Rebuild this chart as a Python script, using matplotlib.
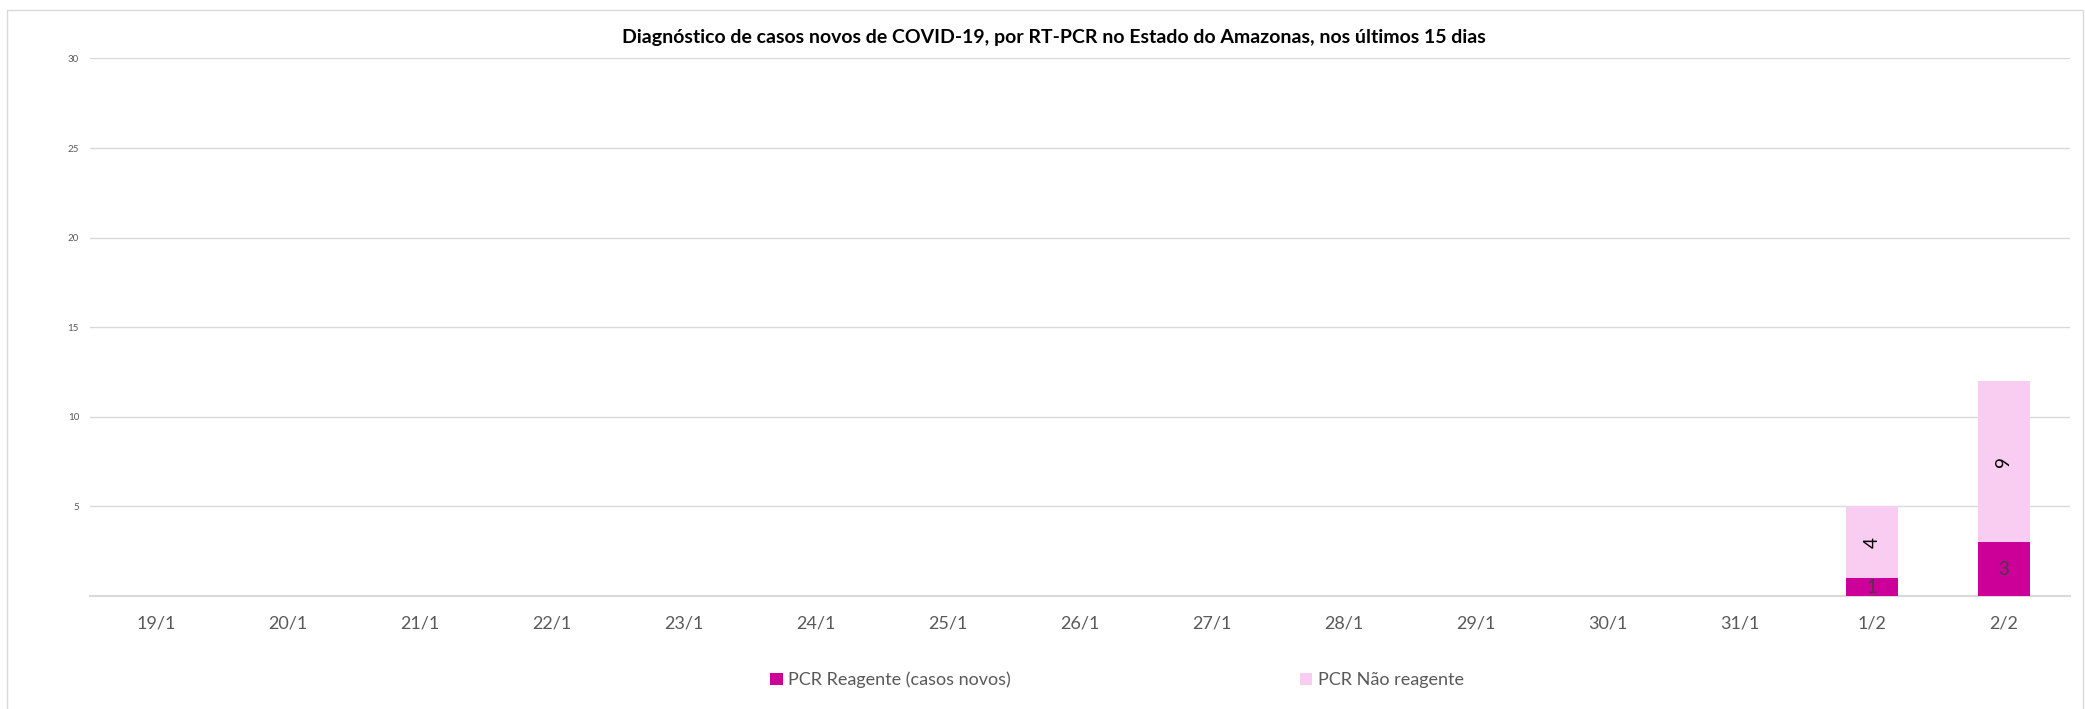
import matplotlib.pyplot as plt
import numpy as np
from matplotlib.patches import Rectangle

plt.rcParams['font.family'] = ['Lato', 'DejaVu Sans']

# data
dias = ['19/1', '20/1', '21/1', '22/1', '23/1', '24/1', '25/1', '26/1',
        '27/1', '28/1', '29/1', '30/1', '31/1', '1/2', '2/2']
reagente = [0, 0, 0, 0, 0, 0, 0, 0, 0, 0, 0, 0, 0, 1, 3]
nao_reagente = [0, 0, 0, 0, 0, 0, 0, 0, 0, 0, 0, 0, 0, 4, 9]
y_ticks = [5, 10, 15, 20, 25, 30]

cor_reag = '#CC0099'
cor_nao = '#F9CCF2'
cinza = '#595959'

fig = plt.figure(figsize=(20.85, 7.09), dpi=100)
ax = fig.add_axes([0.0432, 0.1594, 0.9496, 0.7581])

# chart border
fig.patches.append(Rectangle((7 / 2085, -0.05), (2083 - 7) / 2085, 1 - 10 / 709 + 0.05,
                             transform=fig.transFigure, fill=False,
                             edgecolor='#D9D9D9', linewidth=1))

x = np.arange(len(dias))
b1 = ax.bar(x, reagente, width=0.4, color=cor_reag, label='PCR Reagente (casos novos)', zorder=3)
b2 = ax.bar(x, nao_reagente, width=0.4, bottom=reagente, color=cor_nao,
            label='PCR Não reagente', zorder=3)

# data labels
for i in range(len(dias)):
    if reagente[i]:
        ax.text(x[i], reagente[i] / 2, str(reagente[i]), ha='center', va='center',
                fontsize=13.5, color='#404040', zorder=4)
    if nao_reagente[i]:
        ax.text(x[i], reagente[i] + nao_reagente[i] / 2, str(nao_reagente[i]),
                ha='center', va='center', rotation=90, fontsize=13.5, color='#000000', zorder=4)

ax.set_xlim(-0.5, len(dias) - 0.5)
ax.set_ylim(0, 30)
ax.set_yticks(y_ticks)
ax.set_yticklabels([str(v) for v in y_ticks], fontsize=7, color=cinza)
ax.set_xticks(x)
ax.set_xticklabels(dias, fontsize=13, color=cinza)
ax.tick_params(axis='both', length=0)
ax.tick_params(axis='y', pad=8)
ax.tick_params(axis='x', pad=14)
ax.grid(axis='y', color='#D9D9D9', linewidth=1, zorder=0)
for s in ['top', 'right', 'left']:
    ax.spines[s].set_visible(False)
ax.spines['bottom'].set_color('#D9D9D9')
ax.spines['bottom'].set_linewidth(1.5)

fig.text(0.5055, 1 - 38 / 709, 'Diagnóstico de casos novos de COVID-19, por RT-PCR no Estado do Amazonas, nos últimos 15 dias',
         ha='center', va='center', fontsize=14, fontweight='bold', color='#000000')

leg = fig.legend(handles=[b1, b2], loc='center', bbox_to_anchor=(1117 / 2085, 1 - 680 / 709),
                 ncol=2, frameon=False, fontsize=13, handlelength=0.7, handleheight=0.7,
                 handletextpad=0.3, columnspacing=16)
for t in leg.get_texts():
    t.set_color(cinza)

fig.savefig('out.png', dpi=100)
